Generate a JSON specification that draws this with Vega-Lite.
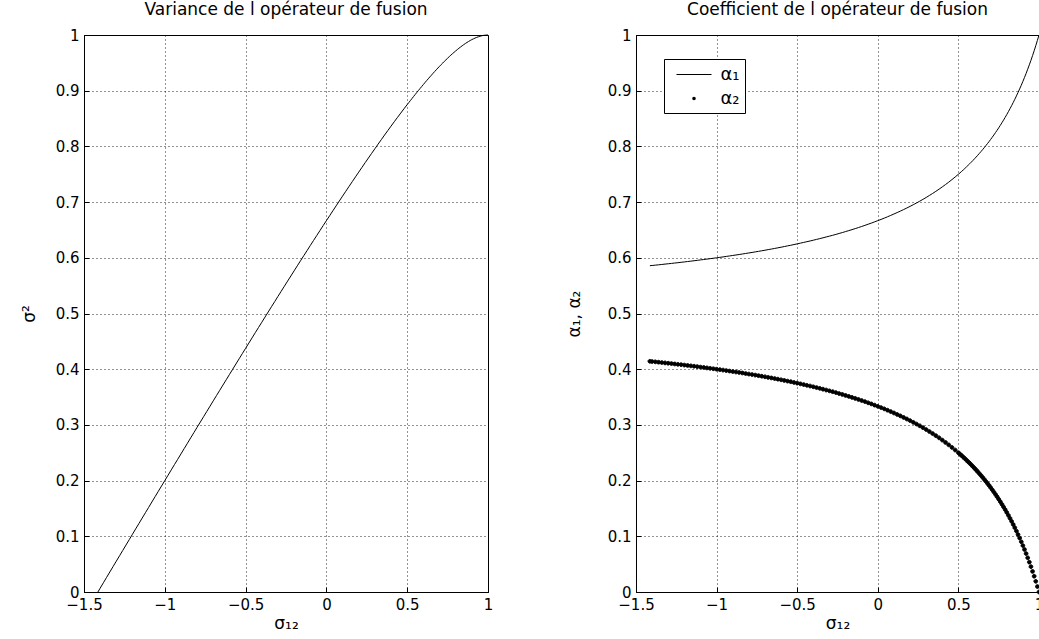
{
  "$schema": "https://vega.github.io/schema/vega-lite/v6.json",
  "padding": {"left": 19, "top": 0, "right": 0, "bottom": 0},
  "background": "white",
  "config": {
    "font": "DejaVu Sans",
    "view": {"stroke": "black", "strokeWidth": 1},
    "axis": {
      "domainColor": "black",
      "tickColor": "black",
      "labelColor": "black",
      "titleColor": "black",
      "labelFont": "DejaVu Sans",
      "titleFont": "DejaVu Sans",
      "labelFontSize": 15,
      "titleFontSize": 17,
      "titleFontWeight": "normal",
      "grid": true,
      "gridColor": "black",
      "gridDash": [1, 3],
      "gridOpacity": 0.85,
      "tickSize": -5,
      "labelPadding": 10,
      "labelFlush": false,
      "labelOverlap": false,
      "labelBound": false
    },
    "title": {"font": "DejaVu Sans", "fontSize": 17, "fontWeight": "normal", "color": "black", "frame": "group", "anchor": "middle", "baseline": "alphabetic", "offset": 9}
  },
  "spacing": 148,
  "bounds": "flush",
  "resolve": {"legend": {"shape": "independent"}},
  "datasets": {
    "fusion": [
      {"s": -1.414, "var": 0, "a1": 0.5858, "a2": 0.4142},
      {"s": -1.40, "var": 0.0069, "a1": 0.5862, "a2": 0.4138},
      {"s": -1.38, "var": 0.0166, "a1": 0.5868, "a2": 0.4132},
      {"s": -1.36, "var": 0.0263, "a1": 0.5874, "a2": 0.4126},
      {"s": -1.34, "var": 0.0360, "a1": 0.5880, "a2": 0.4120},
      {"s": -1.32, "var": 0.0457, "a1": 0.5887, "a2": 0.4113},
      {"s": -1.30, "var": 0.0554, "a1": 0.5893, "a2": 0.4107},
      {"s": -1.28, "var": 0.0650, "a1": 0.5899, "a2": 0.4101},
      {"s": -1.26, "var": 0.0747, "a1": 0.5906, "a2": 0.4094},
      {"s": -1.24, "var": 0.0844, "a1": 0.5912, "a2": 0.4088},
      {"s": -1.22, "var": 0.0940, "a1": 0.5919, "a2": 0.4081},
      {"s": -1.20, "var": 0.1037, "a1": 0.5926, "a2": 0.4074},
      {"s": -1.18, "var": 0.1134, "a1": 0.5933, "a2": 0.4067},
      {"s": -1.16, "var": 0.1230, "a1": 0.5940, "a2": 0.4060},
      {"s": -1.14, "var": 0.1327, "a1": 0.5947, "a2": 0.4053},
      {"s": -1.12, "var": 0.1423, "a1": 0.5954, "a2": 0.4046},
      {"s": -1.10, "var": 0.1519, "a1": 0.5962, "a2": 0.4038},
      {"s": -1.08, "var": 0.1616, "a1": 0.5969, "a2": 0.4031},
      {"s": -1.06, "var": 0.1712, "a1": 0.5977, "a2": 0.4023},
      {"s": -1.04, "var": 0.1808, "a1": 0.5984, "a2": 0.4016},
      {"s": -1.02, "var": 0.1904, "a1": 0.5992, "a2": 0.4008},
      {"s": -1.00, "var": 0.2000, "a1": 0.6000, "a2": 0.4000},
      {"s": -0.98, "var": 0.2096, "a1": 0.6008, "a2": 0.3992},
      {"s": -0.96, "var": 0.2192, "a1": 0.6016, "a2": 0.3984},
      {"s": -0.94, "var": 0.2288, "a1": 0.6025, "a2": 0.3975},
      {"s": -0.92, "var": 0.2383, "a1": 0.6033, "a2": 0.3967},
      {"s": -0.90, "var": 0.2479, "a1": 0.6042, "a2": 0.3958},
      {"s": -0.88, "var": 0.2575, "a1": 0.6050, "a2": 0.3950},
      {"s": -0.86, "var": 0.2670, "a1": 0.6059, "a2": 0.3941},
      {"s": -0.84, "var": 0.2766, "a1": 0.6068, "a2": 0.3932},
      {"s": -0.82, "var": 0.2861, "a1": 0.6078, "a2": 0.3922},
      {"s": -0.80, "var": 0.2957, "a1": 0.6087, "a2": 0.3913},
      {"s": -0.78, "var": 0.3052, "a1": 0.6096, "a2": 0.3904},
      {"s": -0.76, "var": 0.3147, "a1": 0.6106, "a2": 0.3894},
      {"s": -0.74, "var": 0.3242, "a1": 0.6116, "a2": 0.3884},
      {"s": -0.72, "var": 0.3337, "a1": 0.6126, "a2": 0.3874},
      {"s": -0.70, "var": 0.3432, "a1": 0.6136, "a2": 0.3864},
      {"s": -0.68, "var": 0.3527, "a1": 0.6147, "a2": 0.3853},
      {"s": -0.66, "var": 0.3621, "a1": 0.6157, "a2": 0.3843},
      {"s": -0.64, "var": 0.3716, "a1": 0.6168, "a2": 0.3832},
      {"s": -0.62, "var": 0.3810, "a1": 0.6179, "a2": 0.3821},
      {"s": -0.60, "var": 0.3905, "a1": 0.6190, "a2": 0.3810},
      {"s": -0.58, "var": 0.3999, "a1": 0.6202, "a2": 0.3798},
      {"s": -0.56, "var": 0.4093, "a1": 0.6214, "a2": 0.3786},
      {"s": -0.54, "var": 0.4187, "a1": 0.6225, "a2": 0.3775},
      {"s": -0.52, "var": 0.4281, "a1": 0.6238, "a2": 0.3762},
      {"s": -0.50, "var": 0.4375, "a1": 0.6250, "a2": 0.3750},
      {"s": -0.48, "var": 0.4469, "a1": 0.6263, "a2": 0.3737},
      {"s": -0.46, "var": 0.4562, "a1": 0.6276, "a2": 0.3724},
      {"s": -0.44, "var": 0.4656, "a1": 0.6289, "a2": 0.3711},
      {"s": -0.42, "var": 0.4749, "a1": 0.6302, "a2": 0.3698},
      {"s": -0.40, "var": 0.4842, "a1": 0.6316, "a2": 0.3684},
      {"s": -0.38, "var": 0.4935, "a1": 0.6330, "a2": 0.3670},
      {"s": -0.36, "var": 0.5028, "a1": 0.6344, "a2": 0.3656},
      {"s": -0.34, "var": 0.5121, "a1": 0.6359, "a2": 0.3641},
      {"s": -0.32, "var": 0.5213, "a1": 0.6374, "a2": 0.3626},
      {"s": -0.30, "var": 0.5306, "a1": 0.6389, "a2": 0.3611},
      {"s": -0.28, "var": 0.5398, "a1": 0.6404, "a2": 0.3596},
      {"s": -0.26, "var": 0.5490, "a1": 0.6420, "a2": 0.3580},
      {"s": -0.24, "var": 0.5582, "a1": 0.6437, "a2": 0.3563},
      {"s": -0.22, "var": 0.5673, "a1": 0.6453, "a2": 0.3547},
      {"s": -0.20, "var": 0.5765, "a1": 0.6471, "a2": 0.3529},
      {"s": -0.18, "var": 0.5856, "a1": 0.6488, "a2": 0.3512},
      {"s": -0.16, "var": 0.5947, "a1": 0.6506, "a2": 0.3494},
      {"s": -0.14, "var": 0.6038, "a1": 0.6524, "a2": 0.3476},
      {"s": -0.12, "var": 0.6128, "a1": 0.6543, "a2": 0.3457},
      {"s": -0.10, "var": 0.6219, "a1": 0.6562, "a2": 0.3438},
      {"s": -0.08, "var": 0.6309, "a1": 0.6582, "a2": 0.3418},
      {"s": -0.06, "var": 0.6399, "a1": 0.6603, "a2": 0.3397},
      {"s": -0.04, "var": 0.6488, "a1": 0.6623, "a2": 0.3377},
      {"s": -0.02, "var": 0.6578, "a1": 0.6645, "a2": 0.3355},
      {"s": 0.00, "var": 0.6667, "a1": 0.6667, "a2": 0.3333},
      {"s": 0.02, "var": 0.6755, "a1": 0.6689, "a2": 0.3311},
      {"s": 0.04, "var": 0.6844, "a1": 0.6712, "a2": 0.3288},
      {"s": 0.06, "var": 0.6932, "a1": 0.6736, "a2": 0.3264},
      {"s": 0.08, "var": 0.7020, "a1": 0.6761, "a2": 0.3239},
      {"s": 0.10, "var": 0.7107, "a1": 0.6786, "a2": 0.3214},
      {"s": 0.12, "var": 0.7194, "a1": 0.6812, "a2": 0.3188},
      {"s": 0.14, "var": 0.7281, "a1": 0.6838, "a2": 0.3162},
      {"s": 0.16, "var": 0.7367, "a1": 0.6866, "a2": 0.3134},
      {"s": 0.18, "var": 0.7453, "a1": 0.6894, "a2": 0.3106},
      {"s": 0.20, "var": 0.7538, "a1": 0.6923, "a2": 0.3077},
      {"s": 0.22, "var": 0.7623, "a1": 0.6953, "a2": 0.3047},
      {"s": 0.24, "var": 0.7708, "a1": 0.6984, "a2": 0.3016},
      {"s": 0.26, "var": 0.7792, "a1": 0.7016, "a2": 0.2984},
      {"s": 0.28, "var": 0.7875, "a1": 0.7049, "a2": 0.2951},
      {"s": 0.30, "var": 0.7958, "a1": 0.7083, "a2": 0.2917},
      {"s": 0.32, "var": 0.8041, "a1": 0.7119, "a2": 0.2881},
      {"s": 0.34, "var": 0.8122, "a1": 0.7155, "a2": 0.2845},
      {"s": 0.36, "var": 0.8204, "a1": 0.7193, "a2": 0.2807},
      {"s": 0.38, "var": 0.8284, "a1": 0.7232, "a2": 0.2768},
      {"s": 0.40, "var": 0.8364, "a1": 0.7273, "a2": 0.2727},
      {"s": 0.42, "var": 0.8443, "a1": 0.7315, "a2": 0.2685},
      {"s": 0.44, "var": 0.8521, "a1": 0.7358, "a2": 0.2642},
      {"s": 0.46, "var": 0.8598, "a1": 0.7404, "a2": 0.2596},
      {"s": 0.48, "var": 0.8675, "a1": 0.7451, "a2": 0.2549},
      {"s": 0.50, "var": 0.8750, "a1": 0.7500, "a2": 0.2500},
      {"s": 0.51, "var": 0.8787, "a1": 0.7525, "a2": 0.2475},
      {"s": 0.52, "var": 0.8824, "a1": 0.7551, "a2": 0.2449},
      {"s": 0.53, "var": 0.8861, "a1": 0.7577, "a2": 0.2423},
      {"s": 0.54, "var": 0.8898, "a1": 0.7604, "a2": 0.2396},
      {"s": 0.55, "var": 0.8934, "a1": 0.7632, "a2": 0.2368},
      {"s": 0.56, "var": 0.8970, "a1": 0.7660, "a2": 0.2340},
      {"s": 0.57, "var": 0.9006, "a1": 0.7688, "a2": 0.2312},
      {"s": 0.58, "var": 0.9041, "a1": 0.7717, "a2": 0.2283},
      {"s": 0.59, "var": 0.9076, "a1": 0.7747, "a2": 0.2253},
      {"s": 0.60, "var": 0.9111, "a1": 0.7778, "a2": 0.2222},
      {"s": 0.61, "var": 0.9146, "a1": 0.7809, "a2": 0.2191},
      {"s": 0.62, "var": 0.9180, "a1": 0.7841, "a2": 0.2159},
      {"s": 0.63, "var": 0.9213, "a1": 0.7874, "a2": 0.2126},
      {"s": 0.64, "var": 0.9247, "a1": 0.7907, "a2": 0.2093},
      {"s": 0.65, "var": 0.9279, "a1": 0.7941, "a2": 0.2059},
      {"s": 0.66, "var": 0.9312, "a1": 0.7976, "a2": 0.2024},
      {"s": 0.67, "var": 0.9344, "a1": 0.8012, "a2": 0.1988},
      {"s": 0.68, "var": 0.9376, "a1": 0.8049, "a2": 0.1951},
      {"s": 0.69, "var": 0.9407, "a1": 0.8086, "a2": 0.1914},
      {"s": 0.70, "var": 0.9438, "a1": 0.8125, "a2": 0.1875},
      {"s": 0.71, "var": 0.9468, "a1": 0.8165, "a2": 0.1835},
      {"s": 0.72, "var": 0.9497, "a1": 0.8205, "a2": 0.1795},
      {"s": 0.73, "var": 0.9527, "a1": 0.8247, "a2": 0.1753},
      {"s": 0.74, "var": 0.9555, "a1": 0.8289, "a2": 0.1711},
      {"s": 0.75, "var": 0.9583, "a1": 0.8333, "a2": 0.1667},
      {"s": 0.76, "var": 0.9611, "a1": 0.8378, "a2": 0.1622},
      {"s": 0.77, "var": 0.9638, "a1": 0.8425, "a2": 0.1575},
      {"s": 0.78, "var": 0.9664, "a1": 0.8472, "a2": 0.1528},
      {"s": 0.79, "var": 0.9689, "a1": 0.8521, "a2": 0.1479},
      {"s": 0.80, "var": 0.9714, "a1": 0.8571, "a2": 0.1429},
      {"s": 0.81, "var": 0.9738, "a1": 0.8623, "a2": 0.1377},
      {"s": 0.82, "var": 0.9762, "a1": 0.8676, "a2": 0.1324},
      {"s": 0.83, "var": 0.9784, "a1": 0.8731, "a2": 0.1269},
      {"s": 0.84, "var": 0.9806, "a1": 0.8788, "a2": 0.1212},
      {"s": 0.85, "var": 0.9827, "a1": 0.8846, "a2": 0.1154},
      {"s": 0.86, "var": 0.9847, "a1": 0.8906, "a2": 0.1094},
      {"s": 0.87, "var": 0.9866, "a1": 0.8968, "a2": 0.1032},
      {"s": 0.88, "var": 0.9884, "a1": 0.9032, "a2": 0.0968},
      {"s": 0.89, "var": 0.9901, "a1": 0.9098, "a2": 0.0902},
      {"s": 0.90, "var": 0.9917, "a1": 0.9167, "a2": 0.0833},
      {"s": 0.91, "var": 0.9931, "a1": 0.9237, "a2": 0.0763},
      {"s": 0.92, "var": 0.9945, "a1": 0.9310, "a2": 0.0690},
      {"s": 0.93, "var": 0.9957, "a1": 0.9386, "a2": 0.0614},
      {"s": 0.94, "var": 0.9968, "a1": 0.9464, "a2": 0.0536},
      {"s": 0.95, "var": 0.9977, "a1": 0.9545, "a2": 0.0455},
      {"s": 0.96, "var": 0.9985, "a1": 0.9630, "a2": 0.0370},
      {"s": 0.97, "var": 0.9992, "a1": 0.9717, "a2": 0.0283},
      {"s": 0.98, "var": 0.9996, "a1": 0.9808, "a2": 0.0192},
      {"s": 0.99, "var": 0.9999, "a1": 0.9902, "a2": 0.0098},
      {"s": 1.00, "var": 1.0000, "a1": 1.0000, "a2": 0.0000}
    ]
  },
  "hconcat": [
    {
      "width": 404,
      "height": 557,
      "title": "Variance de l opérateur de fusion",
      "data": {"name": "fusion"},
      "mark": {"type": "line", "color": "black", "strokeWidth": 1},
      "encoding": {
        "x": {
          "field": "s", "type": "quantitative",
          "scale": {"domain": [-1.5, 1], "nice": false},
          "axis": {"title": "σ₁₂", "values": [-1.5, -1, -0.5, 0, 0.5, 1], "format": "~g", "titleBaseline": "alphabetic", "titleY": 36}
        },
        "y": {
          "field": "var", "type": "quantitative",
          "scale": {"domain": [0, 1], "nice": false},
          "axis": {"title": "σ²", "values": [0, 0.1, 0.2, 0.3, 0.4, 0.5, 0.6, 0.7, 0.8, 0.9, 1], "format": "~g", "titleBaseline": "alphabetic", "titleX": -50}
        }
      }
    },
    {
      "width": 403,
      "height": 557,
      "title": "Coefficient de l opérateur de fusion",
      "data": {"name": "fusion"},
      "encoding": {
        "x": {
          "field": "s", "type": "quantitative",
          "scale": {"domain": [-1.5, 1], "nice": false},
          "axis": {"title": "σ₁₂", "values": [-1.5, -1, -0.5, 0, 0.5, 1], "format": "~g", "titleBaseline": "alphabetic", "titleY": 36}
        }
      },
      "layer": [
        {
          "mark": {"type": "line", "color": "black", "strokeWidth": 1},
          "encoding": {
            "y": {
              "field": "a1", "type": "quantitative", "title": "α₁, α₂",
              "scale": {"domain": [0, 1], "nice": false},
              "axis": {"title": "α₁, α₂", "values": [0, 0.1, 0.2, 0.3, 0.4, 0.5, 0.6, 0.7, 0.8, 0.9, 1], "format": "~g", "titleBaseline": "alphabetic", "titleX": -57}
            }
          }
        },
        {
          "transform": [{"fold": ["a2"], "as": ["series", "value"]}],
          "mark": {"type": "point", "filled": false, "size": 460, "color": "black", "fill": "black", "stroke": "black", "strokeWidth": 1, "opacity": 1},
          "encoding": {
            "y": {
              "field": "value", "type": "quantitative", "title": "α₁, α₂",
              "scale": {"domain": [0, 1], "nice": false},
              "axis": {"title": "α₁, α₂", "values": [0, 0.1, 0.2, 0.3, 0.4, 0.5, 0.6, 0.7, 0.8, 0.9, 1], "format": "~g", "titleBaseline": "alphabetic", "titleX": -57}
            },
            "shape": {
              "field": "series", "type": "nominal",
              "scale": {"domain": ["a1", "a2"], "range": ["M-1.75,-0.05H1.75V0.05H-1.75Z", "M-0.175,0A0.175,0.175,0,1,1,0.175,0A0.175,0.175,0,1,1,-0.175,0Z"]},
              "legend": {
                "title": null,
                "orient": "none",
                "legendX": 28,
                "legendY": 24,
                "padding": 5,
                "strokeColor": "black",
                "fillColor": "white",
                "cornerRadius": 0,
                "labelFont": "DejaVu Sans",
                "labelFontSize": 18,
                "labelColor": "black",
                "labelOffset": 16,
                "symbolOffset": 14.5,
                "symbolSize": 400,
                "symbolStrokeColor": "black",
                "symbolFillColor": "black",
                "symbolStrokeWidth": 1,
                "rowPadding": 4,
                "labelExpr": "datum.value == 'a1' ? 'α₁' : 'α₂'"
              }
            }
          }
        }
      ]
    }
  ]
}
